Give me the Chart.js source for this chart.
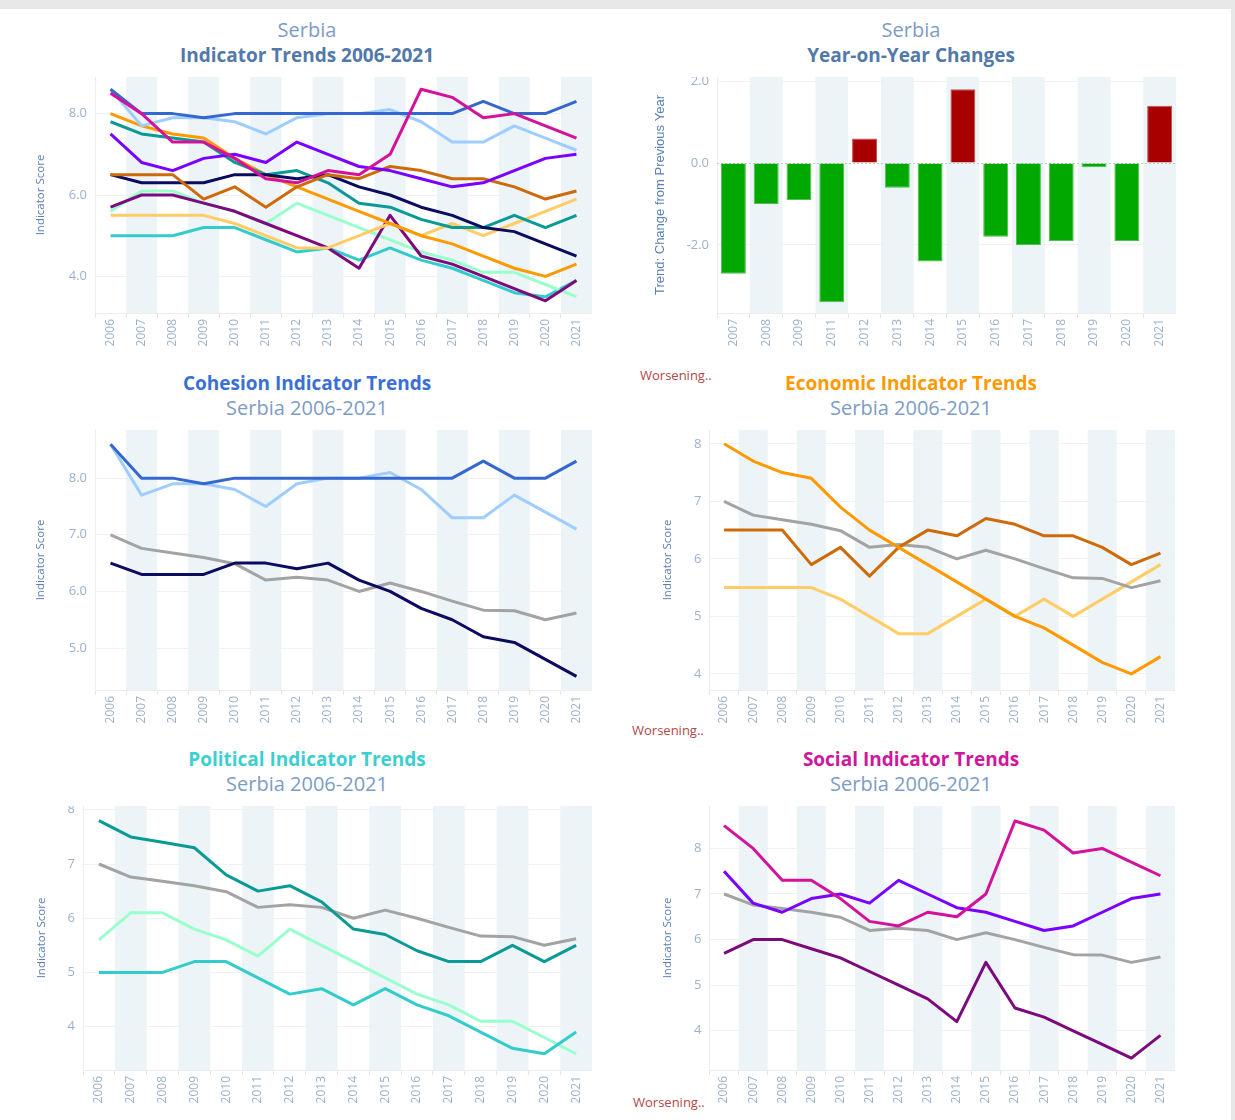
<!DOCTYPE html>
<html>
<head>
<meta charset="utf-8">
<script src="https://cdn.jsdelivr.net/npm/chart.js@4.4.1/dist/chart.umd.min.js"></script>
<style>
  html, body { margin: 0; padding: 0; }
  body { width: 1235px; height: 1120px; background: #e8e8e8; position: relative; overflow: hidden; font-family: "Open Sans", sans-serif; }
  #page { position: absolute; left: 0; top: 9px; width: 1231px; height: 1111px; background: #fff; }
  canvas { position: absolute; }
  .t { position: absolute; white-space: nowrap; transform: translateX(-50%); line-height: 1; }
  .light { color: #7d9cc4; font-size: 20px; }
  .bold { font-weight: 700; font-size: 19px; }
  .worse { position: absolute; color: #b0474a; font-size: 13px; line-height: 1; }
</style>
</head>
<body>
<div id="page"></div>

<div class="t light" style="left:307px;top:20px">Serbia</div>
<div class="t bold" style="left:307px;top:46px;color:#5279aa">Indicator Trends 2006-2021</div>
<div class="t light" style="left:911px;top:20px">Serbia</div>
<div class="t bold" style="left:911px;top:46px;color:#5279aa">Year-on-Year Changes</div>

<div class="t bold" style="left:307px;top:374px;color:#3a6fd6">Cohesion Indicator Trends</div>
<div class="t light" style="left:307px;top:398px">Serbia 2006-2021</div>
<div class="t bold" style="left:911px;top:374px;color:#ff9900">Economic Indicator Trends</div>
<div class="t light" style="left:911px;top:398px">Serbia 2006-2021</div>

<div class="t bold" style="left:307px;top:750px;color:#3ccfcf">Political Indicator Trends</div>
<div class="t light" style="left:307px;top:774px">Serbia 2006-2021</div>
<div class="t bold" style="left:911px;top:750px;color:#d0169b">Social Indicator Trends</div>
<div class="t light" style="left:911px;top:774px">Serbia 2006-2021</div>

<div class="worse" style="left:640px;top:369px">Worsening..</div>
<div class="worse" style="left:632px;top:724px">Worsening..</div>
<div class="worse" style="left:633px;top:1096px">Worsening..</div>

<canvas id="overview" width="562" height="276" style="left:30px;top:77px"></canvas>
<canvas id="yoy" width="527" height="276" style="left:649px;top:77px"></canvas>
<canvas id="cohesion" width="562" height="300" style="left:30px;top:430px"></canvas>
<canvas id="economic" width="518" height="300" style="left:657px;top:430px"></canvas>
<canvas id="political" width="561" height="304" style="left:31px;top:806px"></canvas>
<canvas id="social" width="518" height="304" style="left:657px;top:806px"></canvas>

<script>
const years = ['2006','2007','2008','2009','2010','2011','2012','2013','2014','2015','2016','2017','2018','2019','2020','2021'];

// cohesion
const securityApparatus   = [6.5, 6.3, 6.3, 6.3, 6.5, 6.5, 6.4, 6.5, 6.2, 6.0, 5.7, 5.5, 5.2, 5.1, 4.8, 4.5];
const factionalizedElites = [8.6, 8.0, 8.0, 7.9, 8.0, 8.0, 8.0, 8.0, 8.0, 8.0, 8.0, 8.0, 8.3, 8.0, 8.0, 8.3];
const groupGrievance      = [8.6, 7.7, 7.9, 7.9, 7.8, 7.5, 7.9, 8.0, 8.0, 8.1, 7.8, 7.3, 7.3, 7.7, 7.4, 7.1];
// economic
const economicDecline     = [8.0, 7.7, 7.5, 7.4, 6.9, 6.5, 6.2, 5.9, 5.6, 5.3, 5.0, 4.8, 4.5, 4.2, 4.0, 4.3];
const unevenDevelopment   = [6.5, 6.5, 6.5, 5.9, 6.2, 5.7, 6.2, 6.5, 6.4, 6.7, 6.6, 6.4, 6.4, 6.2, 5.9, 6.1];
const humanFlight         = [5.5, 5.5, 5.5, 5.5, 5.3, 5.0, 4.7, 4.7, 5.0, 5.3, 5.0, 5.3, 5.0, 5.3, 5.6, 5.9];
// political
const stateLegitimacy     = [7.8, 7.5, 7.4, 7.3, 6.8, 6.5, 6.6, 6.3, 5.8, 5.7, 5.4, 5.2, 5.2, 5.5, 5.2, 5.5];
const publicServices      = [5.6, 6.1, 6.1, 5.8, 5.6, 5.3, 5.8, 5.5, 5.2, 4.9, 4.6, 4.4, 4.1, 4.1, 3.8, 3.5];
const humanRights         = [5.0, 5.0, 5.0, 5.2, 5.2, 4.9, 4.6, 4.7, 4.4, 4.7, 4.4, 4.2, 3.9, 3.6, 3.5, 3.9];
// social
const demographicPressure = [5.7, 6.0, 6.0, 5.8, 5.6, 5.3, 5.0, 4.7, 4.2, 5.5, 4.5, 4.3, 4.0, 3.7, 3.4, 3.9];
const refugeesIdps        = [8.5, 8.0, 7.3, 7.3, 6.9, 6.4, 6.3, 6.6, 6.5, 7.0, 8.6, 8.4, 7.9, 8.0, 7.7, 7.4];
const externalIntervention= [7.5, 6.8, 6.6, 6.9, 7.0, 6.8, 7.3, 7.0, 6.7, 6.6, 6.4, 6.2, 6.3, 6.6, 6.9, 7.0];
// average of all indicators (grey line)
const averageScore        = [7.0, 6.76, 6.68, 6.6, 6.49, 6.2, 6.25, 6.2, 6.0, 6.15, 6.0, 5.83, 5.67, 5.66, 5.5, 5.62];

const yoyYears  = ['2007','2008','2009','2011','2012','2013','2014','2015','2016','2017','2018','2019','2020','2021'];
const yoyChange = [-2.7, -1.0, -0.9, -3.4, 0.6, -0.6, -2.4, 1.8, -1.8, -2.0, -1.9, -0.1, -1.9, 1.4];

const ticksOverview = [4, 6, 8];
const ticksYoy      = [-2, 0, 2];
const ticksCohesion = [5, 6, 7, 8];
const ticksGroups   = [4, 5, 6, 7, 8];

const tickColor = '#9db1ca';
const titleColor = '#5a7fb5';

const bands = {
  id: 'bands',
  beforeDraw(chart) {
    const { ctx, chartArea: a, scales: { x } } = chart;
    const n = chart.data.labels.length;
    const w = (a.right - a.left) / n;
    ctx.save();
    ctx.fillStyle = '#edf4f8';
    for (let i = 1; i < n; i += 2) {
      const cx = x.getPixelForValue(i);
      ctx.fillRect(cx - w / 2, a.top, w, a.bottom - a.top);
    }
    ctx.restore();
  }
};

const zeroLine = {
  id: 'zeroLine',
  beforeDatasetsDraw(chart) {
    const { ctx, chartArea: a, scales: { y } } = chart;
    const py = Math.round(y.getPixelForValue(0)) + 0.5;
    ctx.save();
    ctx.strokeStyle = '#c8c8c8';
    ctx.setLineDash([2, 2]);
    ctx.beginPath();
    ctx.moveTo(a.left, py);
    ctx.lineTo(a.right, py);
    ctx.stroke();
    ctx.restore();
  }
};

function axes(min, max, ticks, fmt, yTitle, yWidth, titleFont) {
  return {
    x: {
      offset: true,
      grid: { display: true, offset: true, drawOnChartArea: false, drawTicks: true, tickLength: 5, color: '#e6e6e6' },
      border: { display: true, color: '#ededed' },
      ticks: { minRotation: 90, maxRotation: 90, autoSkip: false, color: tickColor, font: { size: 12 }, padding: 1 },
      afterFit: s => { s.height = 40; s.paddingLeft = 0; s.paddingRight = 0; }
    },
    y: {
      min: min, max: max,
      border: { display: true, color: '#ededed' },
      grid: { color: '#f1f1f1', drawTicks: false },
      afterBuildTicks: s => { s.ticks = ticks.map(v => ({ value: v })); },
      ticks: { color: tickColor, font: { size: 13 }, padding: 8, callback: v => fmt(v) },
      title: { display: true, text: yTitle, color: titleColor, font: titleFont || { size: 11.5 } },
      afterFit: s => { s.width = yWidth; s.paddingTop = 0; s.paddingBottom = 0; }
    }
  };
}

function line(data, color) {
  return { data: data, borderColor: color, borderWidth: 3, pointRadius: 0, tension: 0, fill: false, borderJoinStyle: 'round', clip: false };
}

function lineChart(id, datasets, min, max, ticks, fmt, yWidth) {
  new Chart(document.getElementById(id), {
    type: 'line',
    data: { labels: years, datasets: datasets },
    options: {
      responsive: false, animation: false, devicePixelRatio: 1,
      layout: { padding: 0 },
      plugins: { legend: { display: false }, tooltip: { enabled: false } },
      scales: axes(min, max, ticks, fmt, 'Indicator Score', yWidth)
    },
    plugins: [bands]
  });
}

Chart.defaults.font.family = '"Open Sans", sans-serif';

const oneDec = v => v.toFixed(1);
const whole = v => String(v);

lineChart('overview', [
  line(refugeesIdps, '#d4119b'),
  line(factionalizedElites, '#3567d0'),
  line(groupGrievance, '#9fcdff'),
  line(externalIntervention, '#7a00ff'),
  line(unevenDevelopment, '#cf6a0a'),
  line(securityApparatus, '#0b0b60'),
  line(stateLegitimacy, '#0a9a96'),
  line(economicDecline, '#ff9900'),
  line(humanFlight, '#ffcc66'),
  line(demographicPressure, '#7d0a7d'),
  line(publicServices, '#99ffcc'),
  line(humanRights, '#33cccc')
], 3.1, 8.9, ticksOverview, oneDec, 65);

lineChart('cohesion', [
  line(factionalizedElites, '#3567d0'),
  line(groupGrievance, '#9fcdff'),
  line(securityApparatus, '#0b0b60'),
  line(averageScore, '#a3a3a3')
], 4.26, 8.85, ticksCohesion, oneDec, 65);

lineChart('economic', [
  line(economicDecline, '#ff9900'),
  line(unevenDevelopment, '#cf6a0a'),
  line(averageScore, '#a3a3a3'),
  line(humanFlight, '#ffcc66')
], 3.72, 8.24, ticksGroups, whole, 52.5);

lineChart('political', [
  line(stateLegitimacy, '#0a9a96'),
  line(humanRights, '#33cccc'),
  line(publicServices, '#99ffcc'),
  line(averageScore, '#a3a3a3')
], 3.2, 8.07, ticksGroups, whole, 52);

lineChart('social', [
  line(refugeesIdps, '#d4119b'),
  line(externalIntervention, '#7a00ff'),
  line(demographicPressure, '#7d0a7d'),
  line(averageScore, '#a3a3a3')
], 3.14, 8.93, ticksGroups, whole, 52.5);

const yoyAxes = axes(-3.66, 2.1, ticksYoy, oneDec, 'Trend: Change from Previous Year', 68,
  { size: 13, family: '"Liberation Sans Narrow", "Liberation Sans", sans-serif' });
yoyAxes.y.grid.color = ctx => ctx.tick && ctx.tick.value === 0 ? 'rgba(0,0,0,0)' : '#f1f1f1';

new Chart(document.getElementById('yoy'), {
  type: 'bar',
  data: {
    labels: yoyYears,
    datasets: [{
      data: yoyChange,
      backgroundColor: yoyChange.map(v => v > 0 ? '#a80000' : '#00a800'),
      borderColor: yoyChange.map(v => v > 0 ? '#c25252' : '#4cc24c'),
      borderWidth: 1,
      categoryPercentage: 1,
      barPercentage: 0.76
    }]
  },
  options: {
    responsive: false, animation: false, devicePixelRatio: 1,
    layout: { padding: 0 },
    plugins: { legend: { display: false }, tooltip: { enabled: false } },
    scales: yoyAxes
  },
  plugins: [bands, zeroLine]
});
</script>
</body>
</html>
